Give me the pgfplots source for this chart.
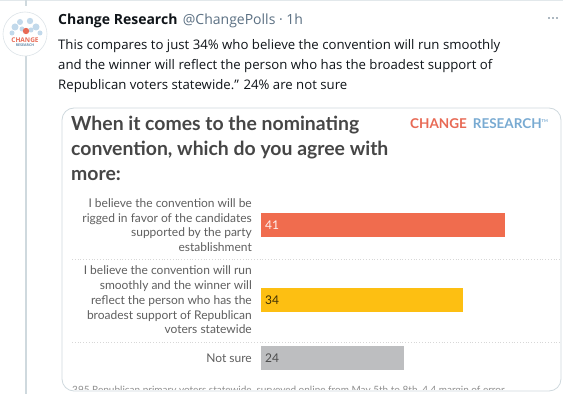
\documentclass[border=0pt]{standalone}
\usepackage{fontspec}
\setmainfont{Lato}
\newfontfamily\tw{Open Sans}
\usepackage{pgfplots}
\pgfplotsset{compat=1.18}
\definecolor{barred}{RGB}{240,108,78}
\definecolor{baryel}{RGB}{253,191,18}
\definecolor{bargray}{RGB}{189,190,192}
\definecolor{lbl}{RGB}{95,95,95}
\definecolor{ttl}{RGB}{70,70,70}
\definecolor{crred}{RGB}{232,106,85}
\definecolor{crblue}{RGB}{120,170,210}
\definecolor{twgray}{RGB}{91,112,131}
\definecolor{twtext}{RGB}{15,20,25}
\definecolor{bordc}{RGB}{207,217,222}
\definecolor{dotc}{RGB}{215,215,215}
\begin{document}
\begin{tikzpicture}[x=1pt,y=1pt]
\useasboundingbox (0,0) rectangle (563,394);
\fill[white] (0,0) rectangle (563,394);
\begin{scope}
\clip (0,0) rectangle (563,394);
% top border and thread line
\draw[bordc!60, line width=0.8pt] (0,393.6) -- (563,393.6);
\draw[bordc, line width=2pt] (26,394) -- (26,394-6);
\draw[bordc, line width=2pt] (26,394-55) -- (26,0);
% avatar
\draw[bordc!70, fill=white, line width=0.6pt] (25,394-34) circle (22);
\foreach \ax/\ay/\ar in {15/27/3.5, 20/22/3, 30/21/3.2, 36/27/3.5, 12/33/2.5, 40/33/2.5, 22/29/2.5, 31/30/2.5}{
  \fill[crblue!45] (\ax,394-\ay) circle (\ar);
}
\fill[crred] (26,394-31) circle (3.2);
\node[font=\tw\bfseries\fontsize{6.5}{7}\selectfont, text=crred, inner sep=0pt] at (25,394-40) {CHANGE};
\node[font=\tw\bfseries\fontsize{3.6}{4}\selectfont, text=crblue!80!black, inner sep=0pt] at (25,394-45.5) {RESEARCH};
% header
\node[anchor=base west, inner sep=0pt, font=\tw\bfseries\fontsize{14}{16}\selectfont, text=twtext] (nm) at (58,394-25) {Change Research};
\node[anchor=base west, inner sep=0pt, font=\tw\fontsize{14}{16}\selectfont, text=twgray] at ([xshift=5pt]nm.base east) {@ChangePolls · 1h};
\foreach \dx in {549,553,557}{\fill[twgray] (\dx,394-18) circle (0.9);}
% tweet text
\begin{scope}[every node/.style={anchor=base west, inner sep=0pt, font=\tw\fontsize{13.2}{16}\selectfont, text=twtext}]
\node at (58,394-50) {This compares to just 34\% who believe the convention will run smoothly};
\node at (58,394-70) {and the winner will reflect the person who has the broadest support of};
\node at (58,394-90) {Republican voters statewide.” 24\% are not sure};
\end{scope}
% card
\draw[bordc, line width=0.8pt, rounded corners=12pt] (62,394-108) rectangle (561,394-391);
% title
\begin{scope}[every node/.style={anchor=base west, inner sep=0pt, font=\bfseries\fontsize{19.4}{22}\selectfont, text=ttl}]
\node at (71,394-131) {When it comes to the nominating};
\node at (71,394-156) {convention, which do you agree with};
\node at (71,394-180.5) {more:};
\end{scope}
\node[anchor=base west, inner sep=0pt, font=\bfseries\fontsize{13.5}{15}\selectfont] at (410,394-128.5) {\textcolor{crred}{CHANGE}\hspace{6pt}\textcolor{crblue}{RESEARCH}\textcolor{crblue}{\raisebox{6pt}{\fontsize{4}{4}\selectfont TM}}};
% separators
\draw[dotc, dotted, line width=0.8pt] (72,394-259) -- (560,394-259);
\draw[dotc, dotted, line width=0.8pt] (72,394-342) -- (560,394-342);
% footer (cut off, as in the screenshot)
\begin{scope}
\clip (62,394-389.5) rectangle (561,394-380);
\node[anchor=base west, inner sep=0pt, font=\fontsize{10}{12}\selectfont, text=lbl!70] at (72,394-394) {395 Republican primary voters statewide, surveyed online from May 5th to 8th, 4.4 margin of error};
\end{scope}
\end{scope}
\begin{axis}[
  at={(261pt,14pt)}, anchor=south west,
  scale only axis, width=297.5pt, height=180pt,
  xmin=0, xmax=50, ymin=14, ymax=194,
  axis line style={draw=none},
  xtick=\empty,
  ytick={36,94,169},
  yticklabels={Not sure,{I believe the convention will run\\smoothly and the winner will\\reflect the person who has the\\broadest support of Republican\\voters statewide},{I believe the convention will be\\rigged in favor of the candidates\\supported by the party\\establishment}},
  major tick length=0pt,
  yticklabel style={align=right, inner sep=0pt, xshift=-9pt, text=lbl, font=\fontsize{12}{14.7}\selectfont},
  clip=false,
]
\addplot[xbar, bar width=24, bar shift=0pt, fill=barred, draw=none] coordinates {(41,169)};
\addplot[xbar, bar width=24, bar shift=0pt, fill=baryel, draw=none] coordinates {(34,94)};
\addplot[xbar, bar width=24, bar shift=0pt, fill=bargray, draw=none] coordinates {(24,36)};
\addplot[draw=none, mark=none, nodes near coords, point meta=explicit symbolic,
  nodes near coords style={anchor=west, inner sep=4pt, text=white!92!barred, font=\fontsize{12}{13}\selectfont}]
  coordinates {(0,169) [41]};
\addplot[draw=none, mark=none, nodes near coords, point meta=explicit symbolic,
  nodes near coords style={anchor=west, inner sep=4pt, text=black!75!baryel, font=\fontsize{12}{13}\selectfont}]
  coordinates {(0,94) [34]};
\addplot[draw=none, mark=none, nodes near coords, point meta=explicit symbolic,
  nodes near coords style={anchor=west, inner sep=4pt, text=black!70, font=\fontsize{12}{13}\selectfont}]
  coordinates {(0,36) [24]};
\end{axis}
\end{tikzpicture}
\end{document}
